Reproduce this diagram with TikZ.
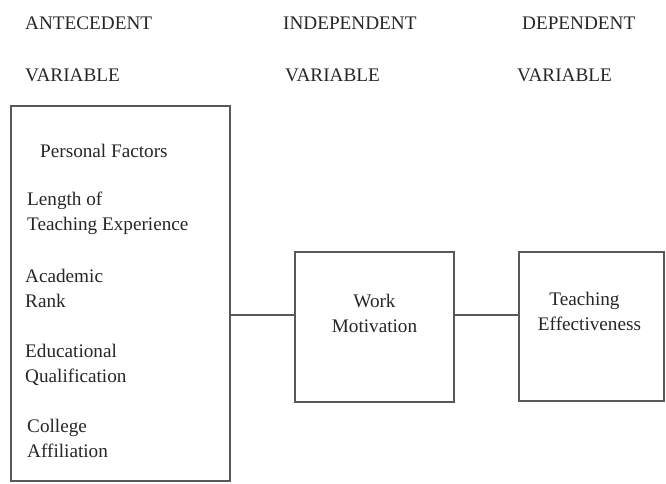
\documentclass[tikz,border=0pt]{standalone}
\usepackage{fontspec}
\setmainfont{Liberation Serif}
\newfontfamily\labelfont{Liberation Serif}
\usepackage{tikz}

\tikzset{
    box/.style={draw=black!65, line width=1.4pt, outer sep=0pt, inner sep=0pt},
    label/.style={text=black!85, inner sep=0pt, font=\labelfont\fontsize{19.2}{25}\selectfont},
    link/.style={draw=black!65, line width=1.4pt}
}

\begin{document}
\begin{tikzpicture}[x=1pt, y=-1pt]
    \useasboundingbox (0,0) rectangle (666,483);

    % Column headings
    \node[label, anchor=base west] (anteHead) at (25,29) {ANTECEDENT};
    \node[label, anchor=base west] (anteVar) at (25,81) {VARIABLE};
    \node[label, anchor=base west] (indHead) at (283,29) {INDEPENDENT};
    \node[label, anchor=base west] (indVar) at (285,81) {VARIABLE};
    \node[label, anchor=base west] (depHead) at (522,29) {DEPENDENT};
    \node[label, anchor=base west] (depVar) at (517,81) {VARIABLE};

    % Boxes
    \node[box, minimum width=219pt, minimum height=375pt] (factors) at (120.5,293.5) {};
    \node[box, minimum width=159pt, minimum height=150pt] (motivation) at (374.5,327) {};
    \node[box, minimum width=145pt, minimum height=149pt] (effect) at (591.5,326.5) {};

    % Personal factors (base = last line)
    \node[label, anchor=base west] (personal) at (40,157) {Personal Factors};
    \node[label, anchor=base west, align=left] (length) at (27,230) {Length of\\Teaching Experience};
    \node[label, anchor=base west, align=left] (rank) at (25,307) {Academic\\Rank};
    \node[label, anchor=base west, align=left] (qualif) at (25,382) {Educational\\Qualification};
    \node[label, anchor=base west, align=left] (college) at (27,457) {College\\Affiliation};

    % Box texts
    \node[label, anchor=base, align=center] (workText) at (374.5,332) {Work\\Motivation};
    \node[label, anchor=base, align=center] (effText) at (589.5,330) {\hspace*{-10pt}Teaching\\Effectiveness};

    % Connectors
    \coordinate (joint) at (0,315);
    \draw[link] (factors.east |- joint) -- (motivation.west |- joint);
    \draw[link] (motivation.east |- joint) -- (effect.west |- joint);
\end{tikzpicture}
\end{document}
